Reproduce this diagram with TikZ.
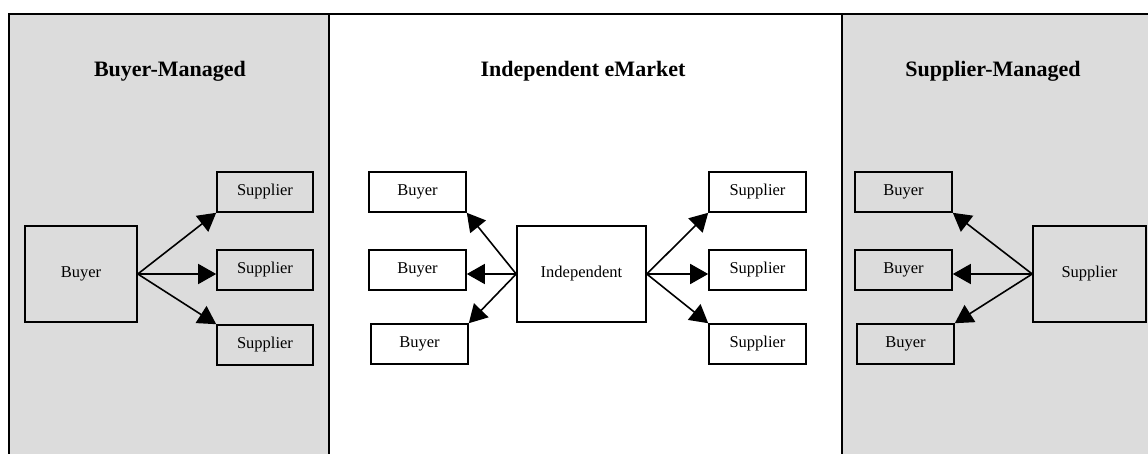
\documentclass[tikz,border=0pt]{standalone}
\usepackage{fontspec}
\setmainfont{Liberation Serif}
\usetikzlibrary{arrows.meta}
\definecolor{panelgray}{HTML}{DCDCDC}
\tikzset{
  frame/.style={line width=1.8pt, draw=black},
  box/.style={draw=black, line width=1.6pt, inner sep=0pt, font=\fontsize{16.5}{19}\selectfont},
  smallbox/.style={box, minimum width=96pt, minimum height=40pt},
  bigbox/.style={box, minimum height=96pt},
  title/.style={font=\fontsize{22}{26}\selectfont\bfseries},
  arr/.style={line width=1.6pt, -{Triangle[length=18pt,width=20pt]}}
}
\begin{document}
\begin{tikzpicture}[x=1pt,y=-1pt]
\useasboundingbox (0,0) rectangle (1148,454);
% panels
\fill[panelgray] (9,14) rectangle (329,454);
\fill[white] (329,14) rectangle (842,454);
\fill[panelgray] (842,14) rectangle (1148,454);
\draw[frame] (9,454) -- (9,14) -- (1148,14);
\draw[frame] (329,14) -- (329,454);
\draw[frame] (842,14) -- (842,454);

% titles
\node[title] (t1) at (170,71) {Buyer-Managed};
\node[title] (t2) at (583,71) {Independent eMarket};
\node[title] (t3) at (993,71) {Supplier-Managed};

% buyer-managed
\node[bigbox, minimum width=112pt] (lb) at (81,274) {Buyer};
\node[smallbox] (ls1) at (265,192) {Supplier};
\node[smallbox] (ls2) at (265,270) {Supplier};
\node[smallbox] (ls3) at (265,345) {Supplier};
\draw[arr] (lb.east) -- (ls1.south west);
\draw[arr] (lb.east) -- (lb.east -| ls2.west);
\draw[arr] (lb.east) -- (ls3.north west);

% independent eMarket
\node[bigbox, minimum width=129pt] (ind) at (581.5,274) {Independent};
\node[smallbox, minimum width=97pt] (cb1) at (417.5,192) {Buyer};
\node[smallbox, minimum width=97pt] (cb2) at (417.5,270) {Buyer};
\node[smallbox, minimum width=97pt] (cb3) at (419.5,344) {Buyer};
\node[smallbox, minimum width=97pt] (cs1) at (757.5,192) {Supplier};
\node[smallbox, minimum width=97pt] (cs2) at (757.5,270) {Supplier};
\node[smallbox, minimum width=97pt] (cs3) at (757.5,344) {Supplier};
\draw[arr] (ind.west) -- (cb1.south east);
\draw[arr] (ind.west) -- (ind.west -| cb2.east);
\draw[arr] (ind.west) -- (cb3.north east);
\draw[arr] (ind.east) -- (cs1.south west);
\draw[arr] (ind.east) -- (ind.east -| cs2.west);
\draw[arr] (ind.east) -- (cs3.north west);

% supplier-managed
\node[bigbox, minimum width=113pt] (rs) at (1089.5,274) {Supplier};
\node[smallbox, minimum width=97pt] (rb1) at (903.5,192) {Buyer};
\node[smallbox, minimum width=97pt] (rb2) at (903.5,270) {Buyer};
\node[smallbox, minimum width=97pt] (rb3) at (905.5,344) {Buyer};
\draw[arr] (rs.west) -- (rb1.south east);
\draw[arr] (rs.west) -- (rs.west -| rb2.east);
\draw[arr] (rs.west) -- (rb3.north east);
\end{tikzpicture}
\end{document}
